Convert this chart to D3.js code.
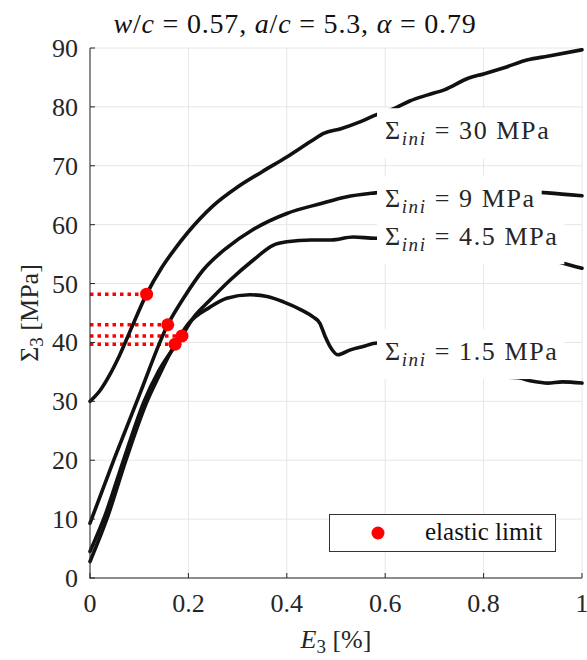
<!DOCTYPE html>
<html>
<head>
<meta charset="utf-8">
<script src="https://cdn.jsdelivr.net/npm/d3@7"></script>
<style>
  html, body { margin: 0; padding: 0; background: #fff; }
  svg { display: block; }
</style>
</head>
<body>
<svg id="chart" width="587" height="660"></svg>
<script>
// Stress–strain curves for four initial confinement levels
const xTicks = [0, 0.2, 0.4, 0.6, 0.8, 1];
const yTicks = [0, 10, 20, 30, 40, 50, 60, 70, 80, 90];

const seriesNames = ["30", "9", "4.5", "1.5"];

const strain30 = [0, 0.02, 0.04, 0.06, 0.085, 0.115, 0.145, 0.17, 0.2, 0.25, 0.3, 0.35, 0.4, 0.45, 0.475, 0.51, 0.55, 0.58, 0.62, 0.65, 0.685, 0.72, 0.77, 0.8, 0.84, 0.89, 0.93, 1.0];
const stress30 = [30, 31.8, 34.5, 37.8, 42.6, 48.2, 52.6, 55.6, 58.8, 63.2, 66.4, 69, 71.5, 74.2, 75.5, 76.3, 77.5, 78.6, 79.8, 81, 82, 82.9, 84.9, 85.6, 86.6, 88, 88.6, 89.7];

const strain9 = [0, 0.05, 0.1, 0.158, 0.19, 0.23, 0.28, 0.33, 0.4, 0.47, 0.52, 0.58, 0.65, 0.75, 0.85, 0.93, 1.0];
const stress9 = [9.3, 20.4, 31, 43, 47.5, 52.3, 56.2, 59.1, 61.9, 63.6, 64.7, 65.4, 65.9, 66, 65.8, 65.4, 64.9];

const strain45 = [0, 0.03, 0.068, 0.11, 0.14, 0.187, 0.21, 0.244, 0.285, 0.332, 0.372, 0.4, 0.45, 0.49, 0.535, 0.58, 0.65, 0.75, 0.85, 0.92, 0.96, 1.0];
const stress45 = [4.5, 10.5, 20, 30, 35.2, 41.1, 44.2, 47.2, 50.6, 54, 56.5, 57.1, 57.4, 57.4, 57.9, 57.7, 57.7, 57, 56, 54.5, 53.5, 52.6];

const strain15 = [0, 0.035, 0.073, 0.116, 0.14, 0.173, 0.2, 0.244, 0.278, 0.325, 0.36, 0.393, 0.43, 0.454, 0.467, 0.478, 0.488, 0.504, 0.528, 0.555, 0.583, 0.65, 0.7, 0.75, 0.8, 0.83, 0.87, 0.9, 0.93, 0.96, 1.0];
const stress15 = [2.8, 10.2, 20, 30, 34.3, 39.7, 43.2, 46, 47.5, 48.1, 47.8, 46.9, 45.5, 44.3, 43.3, 41, 39.3, 37.9, 38.7, 39.3, 39.9, 39, 37.5, 36, 34.8, 34.2, 34, 33.4, 33.1, 33.3, 33.1];

// Elastic limit of each curve
const limitStrain = [0.115, 0.158, 0.187, 0.173];
const limitStress = [48.2, 43.0, 41.1, 39.7];

const curves = [
  { name: seriesNames[0], x: strain30, y: stress30 },
  { name: seriesNames[1], x: strain9, y: stress9 },
  { name: seriesNames[2], x: strain45, y: stress45 },
  { name: seriesNames[3], x: strain15, y: stress15 }
];

const FONT = "'Liberation Serif', 'Times New Roman', Tinos, 'DejaVu Serif', 'Noto Serif', serif";
const svg = d3.select("#chart").attr("font-family", FONT);
const plotL = 90, plotR = 582, plotT = 48, plotB = 578;
const x = d3.scaleLinear().domain([0, 1]).range([plotL, plotR]);
const y = d3.scaleLinear().domain([0, 90]).range([plotB, plotT]);
const axisColor = "#262626";

// Grid
const grid = svg.append("g").attr("stroke", "#e6e6e6").attr("stroke-width", 1);
grid.selectAll("line.v").data(xTicks).join("line").attr("class", "v")
  .attr("x1", d => x(d)).attr("x2", d => x(d)).attr("y1", plotT).attr("y2", plotB);
grid.selectAll("line.h").data(yTicks).join("line").attr("class", "h")
  .attr("y1", d => y(d)).attr("y2", d => y(d)).attr("x1", plotL).attr("x2", plotR);

// Dotted guides from the stress axis to each elastic limit
svg.append("g").selectAll("line").data(limitStress).join("line")
  .attr("x1", x(0)).attr("x2", (d, i) => x(limitStrain[i]))
  .attr("y1", d => y(d)).attr("y2", d => y(d))
  .attr("stroke", "#ff0000").attr("stroke-width", 3.5)
  .attr("stroke-dasharray", "3.5 4");

// Curves
const line = d3.line().x(d => x(d[0])).y(d => y(d[1])).curve(d3.curveMonotoneX);
svg.append("g").selectAll("path").data(curves).join("path")
  .attr("d", c => line(c.x.map((v, i) => [v, c.y[i]])))
  .attr("fill", "none").attr("stroke", "#111").attr("stroke-width", 3.6)
  .attr("stroke-linejoin", "round").attr("stroke-linecap", "round");

// Elastic limit markers
svg.append("g").selectAll("circle").data(limitStress).join("circle")
  .attr("cx", (d, i) => x(limitStrain[i])).attr("cy", d => y(d)).attr("r", 6.5)
  .attr("fill", "#ff0000");

// Curve labels on white boxes
const labelCentre = [75.7, 64.2, 57.7, 38.2];
const labels = svg.append("g");
curves.forEach((c, i) => {
  const g = labels.append("g");
  const baseline = y(labelCentre[i]) + 7;
  const rect = g.append("rect").attr("fill", "#fff");
  const t = g.append("text").attr("x", 385).attr("y", baseline).attr("font-size", 26)
    .attr("letter-spacing", 1.6).attr("fill", axisColor);
  t.append("tspan").text("Σ");
  t.append("tspan").attr("font-style", "italic").attr("font-size", 19).attr("dy", 6).text("ini");
  t.append("tspan").attr("dy", -6).text(" = " + c.name + " MPa");
  const w = t.node().getComputedTextLength();
  rect.attr("x", 377).attr("y", baseline - 31).attr("width", w + 14).attr("height", 50);
});

// Axes
const axes = svg.append("g").attr("stroke", axisColor).attr("stroke-width", 1);
axes.append("line").attr("x1", plotL).attr("x2", plotL).attr("y1", plotT).attr("y2", plotB + 0.5);
axes.append("line").attr("x1", plotL - 0.5).attr("x2", plotR).attr("y1", plotB).attr("y2", plotB);
axes.selectAll("line.xt").data(xTicks).join("line").attr("class", "xt")
  .attr("x1", d => x(d)).attr("x2", d => x(d)).attr("y1", plotB).attr("y2", plotB - 5);
axes.selectAll("line.yt").data(yTicks).join("line").attr("class", "yt")
  .attr("y1", d => y(d)).attr("y2", d => y(d)).attr("x1", plotL).attr("x2", plotL + 5);

svg.append("g").attr("fill", axisColor).selectAll("text").data(xTicks).join("text")
  .attr("x", d => x(d)).attr("y", 612).attr("text-anchor", "middle").attr("font-size", 26)
  .text(d => d3.format("")(d));
svg.append("g").attr("fill", axisColor).selectAll("text").data(yTicks).join("text")
  .attr("x", 78).attr("y", d => y(d) + 9).attr("text-anchor", "end").attr("font-size", 26)
  .text(d => d);

// Axis titles
const xl = svg.append("text").attr("x", (plotL + plotR) / 2).attr("y", 648)
  .attr("text-anchor", "middle").attr("font-size", 26).attr("fill", axisColor);
xl.append("tspan").attr("font-style", "italic").text("E");
xl.append("tspan").attr("font-size", 19).attr("dy", 5).text("3");
xl.append("tspan").attr("dy", -5).text(" [%]");

const yl = svg.append("text").attr("transform", `translate(38,${(plotT + plotB) / 2}) rotate(-90)`)
  .attr("text-anchor", "middle").attr("font-size", 26).attr("fill", axisColor);
yl.append("tspan").text("Σ");
yl.append("tspan").attr("font-size", 19).attr("dy", 5).text("3");
yl.append("tspan").attr("dy", -5).text(" [MPa]");

// Title
const title = svg.append("text").attr("x", 295).attr("y", 33)
  .attr("text-anchor", "middle").attr("font-size", 28).attr("letter-spacing", 0.8).attr("fill", "#111");
title.append("tspan").attr("font-style", "italic").text("w");
title.append("tspan").text("/");
title.append("tspan").attr("font-style", "italic").text("c");
title.append("tspan").text(" = 0.57, ");
title.append("tspan").attr("font-style", "italic").text("a");
title.append("tspan").text("/");
title.append("tspan").attr("font-style", "italic").text("c");
title.append("tspan").text(" = 5.3, ");
title.append("tspan").attr("font-style", "italic").text("α");
title.append("tspan").text(" = 0.79");

// Legend
const lg = svg.append("g");
lg.append("rect").attr("x", 329.5).attr("y", 514.5).attr("width", 226).attr("height", 37)
  .attr("fill", "#fff").attr("stroke", "#333").attr("stroke-width", 1);
lg.append("circle").attr("cx", 378).attr("cy", 533).attr("r", 6.5).attr("fill", "#ff0000");
lg.append("text").attr("x", 425).attr("y", 540).attr("font-size", 25).attr("fill", "#111").text("elastic limit");
</script>
</body>
</html>
